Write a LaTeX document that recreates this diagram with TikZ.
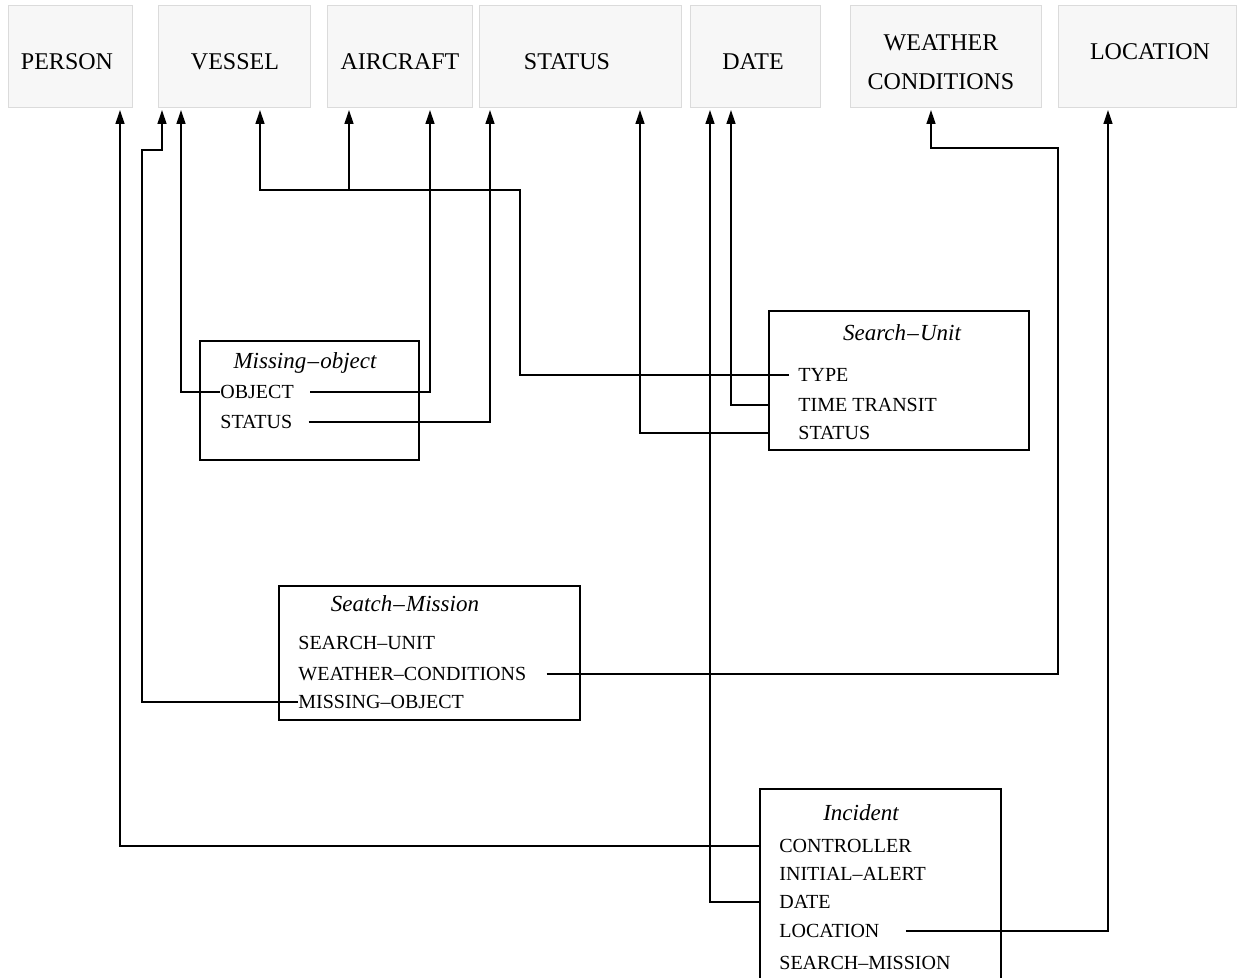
\documentclass[tikz,border=0pt]{standalone}
\usepackage{fontspec}
\setmainfont{Liberation Serif}
\usetikzlibrary{arrows.meta,fit}
\begin{document}
\begin{tikzpicture}[x=0.5pt,y=-0.5pt,
  topbox/.style={draw=black!14, fill=black!3, line width=0.5pt, inner sep=0pt},
  toptext/.style={font=\fontsize{12}{19.5}\selectfont, align=center, inner sep=0pt},
  frame/.style={draw=black, line width=0.6pt, inner sep=0pt},
  title/.style={font=\fontsize{11.5}{13}\selectfont\itshape, inner sep=0pt},
  item/.style={font=\fontsize{10}{12}\selectfont, anchor=west, inner sep=0pt},
  link/.style={draw=black, line width=0.65pt},
  arr/.style={link, -{Triangle[length=7pt,width=4.5pt]}}]
\useasboundingbox (0,0) rectangle (1237,978);
\clip (0,0) rectangle (1237,978);
% top boxes
\node[topbox, fit={(8,6)(132,108)}] (person) {};
\node[topbox, fit={(158,6)(310,108)}] (vessel) {};
\node[topbox, fit={(327,6)(472,108)}] (aircraft) {};
\node[topbox, fit={(479,6)(681,108)}] (status) {};
\node[topbox, fit={(690,6)(820,108)}] (date) {};
\node[topbox, fit={(850,6)(1041,108)}] (weather) {};
\node[topbox, fit={(1058,6)(1236,108)}] (location) {};
\node[toptext] (person-t) at (67,62) {PERSON};
\node[toptext] (vessel-t) at (235,62) {VESSEL};
\node[toptext] (aircraft-t) at (400,62) {AIRCRAFT};
\node[toptext] (status-t) at (567,62) {STATUS};
\node[toptext] (date-t) at (753,62) {DATE};
\node[toptext] (weather-t) at (941,62) {WEATHER\\CONDITIONS};
\node[toptext] (location-t) at (1150,52) {LOCATION};
% arrow targets on the top boxes
\coordinate (pA) at (120,110);
\coordinate (vA) at (162,110);
\coordinate (vB) at (181,110);
\coordinate (vC) at (260,110);
\coordinate (aA) at (349,110);
\coordinate (aB) at (430,110);
\coordinate (sA) at (490,110);
\coordinate (sB) at (640,110);
\coordinate (dA) at (710,110);
\coordinate (dB) at (731,110);
\coordinate (wA) at (931,110);
\coordinate (lA) at (1108,110);
% Missing-object
\node[frame, fit={(200,341)(419,460)}] (mo) {};
\node[title] (mo-t) at (305,363) {Missing\kern0.6pt--\kern0.6pt object};
\node[item] (mo-obj) at (220,392) {OBJECT};
\node[item] (mo-st) at (220,422) {STATUS};
% Search-Unit
\node[frame, fit={(769,311)(1029,450)}] (su) {};
\node[title] (su-t) at (902,333) {Search\kern0.6pt--\kern0.6pt Unit};
\node[item] (su-type) at (798,375) {TYPE};
\node[item] (su-tt) at (798,405) {TIME TRANSIT};
\node[item] (su-st) at (798,433) {STATUS};
% Seatch-Mission
\node[frame, fit={(279,586)(580,720)}] (sm) {};
\node[title] (sm-t) at (405,604) {Seatch\kern0.6pt--\kern0.6pt Mission};
\node[item] (sm-su) at (298,643) {SEARCH--UNIT};
\node[item] (sm-wc) at (298,674) {WEATHER--CONDITIONS};
\node[item] (sm-mo) at (298,702) {MISSING--OBJECT};
% Incident
\node[frame, fit={(760,789)(1001,1020)}] (inc) {};
\node[title] (inc-t) at (861,813) {Incident};
\node[item] (inc-ctrl) at (779,846) {CONTROLLER};
\node[item] (inc-ia) at (779,874) {INITIAL--ALERT};
\node[item] (inc-date) at (779,902) {DATE};
\node[item] (inc-loc) at (779,931) {LOCATION};
\node[item] (inc-sm) at (779,963) {SEARCH--MISSION};
% bends
\coordinate (bV) at (142,150);
\coordinate (bT) at (520,190);
\coordinate (jA) at (349,190);
\coordinate (bW) at (1058,148);
% connectors
\draw[arr] (inc.west |- inc-ctrl.west) -| (pA);
\draw[arr] (sm-mo.west) -| (bV) -| (vA);
\draw[arr] (mo-obj.west) -| (vB);
\draw[arr] ([xshift=-4.5pt]su-type.west) -| (bT) -| (vC);
\draw[arr] (jA) -- (aA);
\draw[arr] ([xshift=8pt]mo-obj.east) -| (aB);
\draw[arr] ([xshift=8pt]mo-st.east) -| (sA);
\draw[arr] (su.west |- su-st.west) -| (sB);
\draw[arr] (su.west |- su-tt.west) -| (dB);
\draw[arr] (inc.west |- inc-date.west) -| (dA);
\draw[arr] ([xshift=10pt]sm-wc.east) -| (bW) -| (wA);
\draw[arr] ([xshift=13pt]inc-loc.east) -| (lA);
\end{tikzpicture}
\end{document}
